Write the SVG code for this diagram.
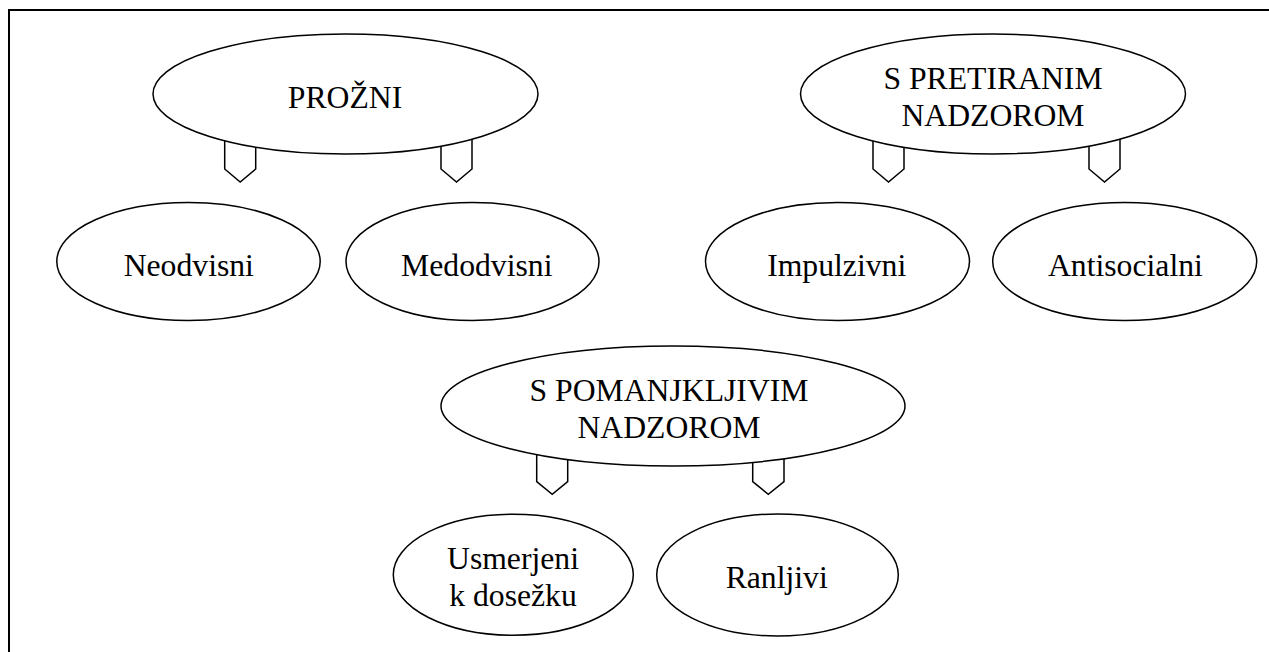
<svg xmlns="http://www.w3.org/2000/svg" width="1269" height="652" viewBox="0 0 1269 652">
<style>
.n{fill:#fff;stroke:#000;stroke-width:1.5}
.c{fill:#fff;stroke:#000;stroke-width:1.5;stroke-linejoin:miter}
.t{font-family:"Liberation Serif","Times New Roman",serif;font-size:31.7px;fill:#000;text-anchor:middle}
</style>
<rect x="0" y="0" width="1269" height="652" fill="#fff"/>
<path d="M9,652 V10 H1269" fill="none" stroke="#000" stroke-width="2"/>
<g id="connectors">
<polygon class="c" points="224.7,130 255.7,130 255.7,169 240.2,182 224.7,169"/>
<polygon class="c" points="441,128 472,128 472,169 456.5,182 441,169"/>
<polygon class="c" points="873,128 904,128 904,169 888.5,182 873,169"/>
<polygon class="c" points="1089,128 1120,128 1120,169 1104.5,182 1089,169"/>
<polygon class="c" points="536.7,450 567.7,450 567.7,481.7 552.2,494.3 536.7,481.7"/>
<polygon class="c" points="752.7,450 784,450 784,481.7 768.3,494.3 752.7,481.7"/>
</g>
<g id="prozni">
<ellipse class="n" cx="345.5" cy="94" rx="192.5" ry="60"/>
<text class="t" x="345" y="108">PROŽNI</text>
</g>
<g id="pretiranim">
<ellipse class="n" cx="993" cy="94" rx="192.5" ry="60"/>
<text class="t" x="993" y="89">S PRETIRANIM</text>
<text class="t" x="993" y="126">NADZOROM</text>
</g>
<g id="neodvisni">
<ellipse class="n" cx="188.5" cy="261.5" rx="131.7" ry="59"/>
<text class="t" x="188.8" y="276">Neodvisni</text>
</g>
<g id="medodvisni">
<ellipse class="n" cx="472.5" cy="261.5" rx="126.5" ry="59"/>
<text class="t" x="476.8" y="276">Medodvisni</text>
</g>
<g id="impulzivni">
<ellipse class="n" cx="837.5" cy="261.5" rx="132" ry="59"/>
<text class="t" x="836.7" y="276">Impulzivni</text>
</g>
<g id="antisocialni">
<ellipse class="n" cx="1124.7" cy="261.5" rx="132" ry="59"/>
<text class="t" x="1125.4" y="276">Antisocialni</text>
</g>
<g id="pomanjkljivim">
<ellipse class="n" cx="673" cy="406" rx="232" ry="60"/>
<text class="t" x="669" y="401">S POMANJKLJIVIM</text>
<text class="t" x="669" y="438">NADZOROM</text>
</g>
<g id="usmerjeni">
<ellipse class="n" cx="513.3" cy="574.7" rx="120" ry="60.5"/>
<text class="t" x="513" y="568.5">Usmerjeni</text>
<text class="t" x="513" y="606">k dosežku</text>
</g>
<g id="ranljivi">
<ellipse class="n" cx="777.5" cy="575" rx="120.8" ry="61"/>
<text class="t" x="776.7" y="588.3">Ranljivi</text>
</g>
</svg>
